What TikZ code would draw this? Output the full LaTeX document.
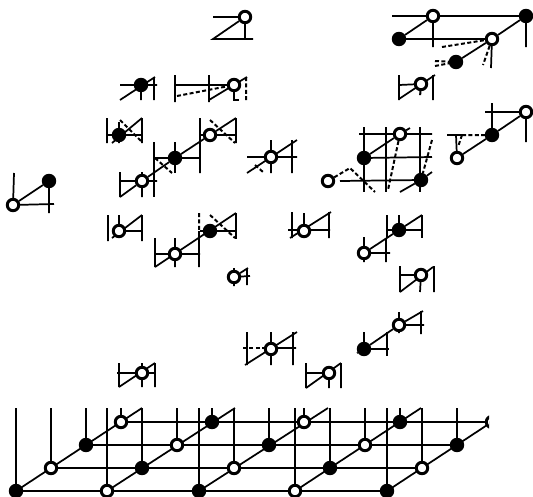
\documentclass[tikz,border=0pt]{standalone}
\usepackage{tikz}
\usetikzlibrary{backgrounds}
\tikzset{
  opensite/.style = {circle, draw, line width=2.2pt, fill=white, inner sep=0pt, minimum size=8.6pt},
  fullsite/.style = {circle, draw, line width=2.2pt, fill=black, inner sep=0pt, minimum size=8.6pt},
  bond/.style     = {line width=1.3pt},
  ghost/.style    = {line width=1.5pt, dash pattern=on 3pt off 1.8pt},
}
\begin{document}
\begin{tikzpicture}[x=0.75pt, y=-0.75pt]
  \useasboundingbox (0,0) rectangle (533,497);
  % isolated sites
  \foreach \n/\x/\y/\s in {a1/245/17/opensite, b1/141/85/fullsite, b2/234/85/opensite,
      c1/433/16/opensite, c2/526/16/fullsite, c3/399/39/fullsite, c4/492/39/opensite, c5/456/62/fullsite,
      d1/421/84/opensite, e1/119/135/fullsite, e2/210/135/opensite, e3/175/158/fullsite,
      e4/142/181/opensite, e5/271/157/opensite, f1/526/112/opensite, f2/492/135/fullsite,
      f3/457/158/opensite, g1/400/134/opensite, g2/364/158/fullsite, g3/421/180/fullsite,
      g4/328/181/opensite, h1/13/205/opensite, h2/49/181/fullsite, i1/119/231/opensite,
      i2/175/254/opensite, i3/210/231/fullsite, i4/304/231/opensite, i5/399/230/fullsite,
      i6/364/253/opensite, j1/234/277/opensite, j2/421/275/opensite, k1/399/325/opensite,
      k2/364/349/fullsite, k3/271/349/opensite, k4/329/373/opensite, k5/142/373/opensite}
    \node[\s] (\n) at (\x,\y) {};
  % the full lattice
  \begin{scope}
    \clip (0,0) rectangle (489,497);
    \foreach \i/\xs in {1/16,2/107,3/199,4/295,5/387}
      \foreach \j in {1,...,4} {
        \pgfmathtruncatemacro{\oddsite}{mod(\i+\j,2)}
        \ifnum\oddsite=0
          \node[fullsite] (p\i\j) at (\xs+35*\j-35, 491-23*\j+23) {};
        \else
          \node[opensite] (p\i\j) at (\xs+35*\j-35, 491-23*\j+23) {};
        \fi
      }
  \end{scope}
  \begin{scope}[on background layer]
  \begin{scope}[bond]
    \begin{scope}
      \clip (0,0) rectangle (489,497);
      \foreach \i/\xt in {1/142,2/235,3/328,4/421,5/513} {
        \draw (p\i1.center) -- (\xt,408);
        \foreach \j in {1,...,4}
          \draw (p\i\j.center) -- (p\i\j |- 0,408);
      }
      \foreach \j in {1,...,4}
        \draw (p1\j.center) -- (p5\j.center);
      \draw[line width=1.8pt] (p11.center) -- (p11 |- 0,408);
    \end{scope}
    % top
    \draw (213,17) -- (a1) -- (213,39) -- (253,39) (a1) -- (245,39);
    \draw (120,85) -- (157,85) (120,100) -- (155,77) (141,80) -- (141,100) (154,77) -- (154,100);
    \draw (175,75) -- (175,102) (175,85) -- (b2) (209,75) -- (209,102) (209,100) -- (247,77);
    \draw (b2) -- (234,100) -- (239,100);
    \draw[ghost] (177,96) -- (b2) (246,77) -- (246,100);
    \draw (392,16) -- (c1) -- (c2) -- (c4) -- (c5) (c1) -- (c3) -- (c4);
    \draw (c1) -- (433,47) (c2) -- (526,47) (c4) -- (491,68);
    \draw[ghost] (442,47) -- (c4) -- (483,65) (435,61) -- (c5) (435,66) -- (c5);
    \draw (399,75) -- (399,100) (433,75) -- (433,100) (399,99) -- (435,75) (399,85) -- (d1);
    \draw[ghost] (d1) -- (420,97);
    % middle left
    \draw (107,118) -- (107,143) (142,118) -- (142,143) (112,143) -- (142,118) (107,135) -- (142,135) (119,122) -- (119,143);
    \draw[ghost] (120,120) -- (142,142);
    \draw (200,118) -- (200,173) (236,118) -- (236,143) (200,135) -- (236,135) (e2) -- (236,118);
    \draw (154,142) -- (154,197) (175,142) -- (175,173) (154,158) -- (200,158);
    \draw (e2) -- (e3) -- (e4) -- (120,197) (120,172) -- (120,197) (120,181) -- (157,181) (142,172) -- (142,197);
    \draw[ghost] (210,120) -- (235,143) (155,158) -- (172,173);
    \draw (247,157) -- (297,157) (247,173) -- (297,140) (271,140) -- (271,173) (292,140) -- (292,173);
    \draw[ghost] (255,165) -- (263,172);
    % middle right
    \draw (485,112) -- (f1) -- (f2) -- (f3) (492,103) -- (f2) (f1) -- (526,142);
    \draw (447,135) -- (462,135) (f3) -- (456,135);
    \draw[ghost] (462,135) -- (f2) (462,135) -- (458,147);
    \draw (359,134) -- (g1) -- (432,134) (g2) -- (432,157) (g2) -- (g1) -- (410,128);
    \draw (364,127) -- (364,192) (386,127) -- (386,192) (420,127) -- (420,192);
    \draw (340,181) -- (g3) (400,192) -- (g3) -- (432,172);
    \draw[ghost] (g1) -- (388,190) (432,140) -- (g3) (g4) -- (350,168) -- (375,192);
    % left pair
    \draw (h1) -- (h2) (14,173) -- (h1) (h1) -- (54,204) (h2) -- (49,213);
    \draw (108,215) -- (108,241) (142,215) -- (142,241) (112,238) -- (142,215) (i1) -- (142,231) (119,215) -- (i1);
    \draw (155,238) -- (155,267) (155,267) -- (236,213) (155,254) -- (200,254) (175,238) -- (175,267) (199,231) -- (199,267);
    \draw (236,213) -- (236,239) (200,231) -- (236,231);
    \draw[ghost] (199,213) -- (199,231) (210,215) -- (235,238);
    \draw (292,212) -- (292,238) (329,212) -- (329,238) (290,238) -- (331,212) (288,230) -- (330,230) (304,213) -- (i4);
    \draw (387,215) -- (387,238) (422,215) -- (422,238) (387,230) -- (423,230) (399,215) -- (i5);
    \draw (i6) -- (i5) -- (422,215) (364,237) -- (364,262) (i6) -- (390,253) (386,238) -- (386,262);
    \draw (400,266) -- (400,292) (434,266) -- (434,292) (400,292) -- (433,267) (400,275) -- (j2) (j2) -- (420,292);
    \draw (j1) -- (250,276) (j1) -- (248,268) (247,268) -- (247,285) (234,268) -- (234,286);
    % bottom groups
    \draw (k2) -- (k1) -- (423,311) (357,353) -- (k2) (393,325) -- (424,325) (399,312) -- (399,333) (421,311) -- (421,334);
    \draw (364,332) -- (364,355) (357,349) -- (389,349) (387,332) -- (387,356);
    \draw (247,332) -- (247,365) (293,332) -- (293,365) (271,332) -- (271,365) (245,365) -- (297,332) (265,348) -- (296,348);
    \draw[ghost] (243,348) -- (265,348);
    \draw (306,363) -- (306,388) (341,363) -- (341,388) (306,388) -- (341,363) (306,373) -- (k4) (k4) -- (329,388);
    \draw (119,363) -- (119,387) (155,363) -- (155,387) (119,387) -- (155,363) (117,373) -- (155,373) (142,363) -- (142,387);
  \end{scope}
  \end{scope}
\end{tikzpicture}
\end{document}
